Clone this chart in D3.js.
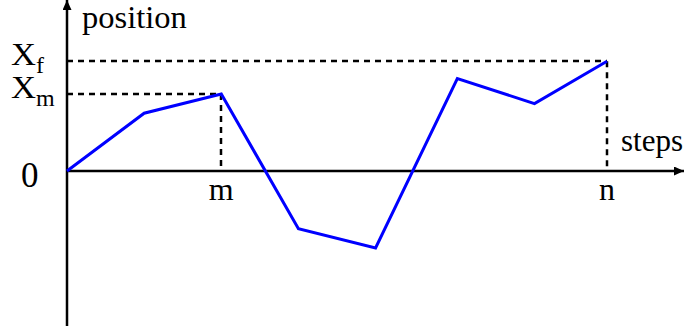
<!DOCTYPE html>
<html>
<head>
  <title>Random walk position vs steps</title>
  <script src="https://d3js.org/d3.v7.min.js"></script>
  <style>
    body { margin: 0; background: #fff; }
    text { font-family: "Liberation Serif", "Times New Roman", serif; fill: #000; }
  </style>
</head>
<body>
<div id="chart"></div>
<script>
// steps taken (x) and position after each step (y)
var steps = [0, 1, 2, 3, 4, 5.06, 6.06, 7];
var positions = [0, 3, 4, -3, -4, 4.8, 3.5, 5.7];
// marked points on the axes
var markM = 2;   // step m
var markN = 7;   // step n
var xLabels = ["m", "n"];

var width = 686, height = 328;

var svg = d3.select("#chart").append("svg")
  .attr("width", width)
  .attr("height", height);

// scales
var x = d3.scaleLinear().domain([0, 7]).range([67, 607]);
var y = d3.scaleLinear().domain([-4, 4]).range([248, 94]);

var x0 = x(0), y0 = y(0);

// arrow head marker
svg.append("defs").append("marker")
  .attr("id", "arrow")
  .attr("viewBox", "0 0 10 9")
  .attr("refX", 10)
  .attr("refY", 4.5)
  .attr("markerWidth", 10)
  .attr("markerHeight", 9)
  .attr("markerUnits", "userSpaceOnUse")
  .attr("orient", "auto")
  .append("path")
  .attr("d", "M0,0 L10,4.5 L0,9 Z")
  .attr("fill", "#000");

// dashed guide lines (snapped to whole pixels so they stay crisp)
var mIdx = steps.indexOf(markM), nIdx = steps.indexOf(markN);
var r = Math.round;
var guides = [
  [x0, r(y(positions[nIdx])), x(markN), r(y(positions[nIdx]))],
  [x0, r(y(positions[mIdx])), x(markM), r(y(positions[mIdx]))],
  [r(x(markM)), y(positions[mIdx]), r(x(markM)), y0],
  [r(x(markN)), y(positions[nIdx]), r(x(markN)), y0]
];
svg.selectAll(".guide")
  .data(guides)
  .enter().append("line")
  .attr("class", "guide")
  .attr("x1", function(d) { return d[0]; })
  .attr("y1", function(d) { return d[1]; })
  .attr("x2", function(d) { return d[2]; })
  .attr("y2", function(d) { return d[3]; })
  .attr("stroke", "#000")
  .attr("stroke-width", 2.5)
  .attr("stroke-dasharray", "6,5");

// axes
svg.append("line")
  .attr("x1", x0).attr("y1", 326)
  .attr("x2", x0).attr("y2", 0)
  .attr("stroke", "#000")
  .attr("stroke-width", 2.5)
  .attr("marker-end", "url(#arrow)");

svg.append("line")
  .attr("x1", x0).attr("y1", y0)
  .attr("x2", 684).attr("y2", y0)
  .attr("stroke", "#000")
  .attr("stroke-width", 2.5)
  .attr("marker-end", "url(#arrow)");

// the walk
svg.append("path")
  .datum(steps.map(function(s, i) { return [s, positions[i]]; }))
  .attr("fill", "none")
  .attr("stroke", "#0000ff")
  .attr("stroke-width", 3)
  .attr("stroke-linejoin", "miter")
  .attr("d", d3.line()
    .x(function(d) { return x(d[0]); })
    .y(function(d) { return y(d[1]); }));

// axis titles
svg.append("text")
  .attr("x", 82).attr("y", 28)
  .style("font-size", "32.5px")
  .text("position");

svg.append("text")
  .attr("x", 683).attr("y", 151)
  .attr("text-anchor", "end")
  .style("font-size", "31px")
  .text("steps");

// x labels
svg.selectAll(".xlab")
  .data([markM, markN])
  .enter().append("text")
  .attr("class", "xlab")
  .attr("x", function(d) { return x(d); })
  .attr("y", 200)
  .attr("text-anchor", "middle")
  .style("font-size", "32px")
  .text(function(d, i) { return xLabels[i]; });

// y labels
svg.append("text")
  .attr("x", 21).attr("y", 187)
  .style("font-size", "35px")
  .text("0");

var yLabs = [
  { main: "X", sub: "f", v: positions[nIdx] },
  { main: "X", sub: "m", v: positions[mIdx] }
];
var yl = svg.selectAll(".ylab")
  .data(yLabs)
  .enter().append("text")
  .attr("class", "ylab")
  .attr("x", 11)
  .attr("y", function(d) { return y(d.v) + 4; })
  .style("font-size", "31px");
yl.append("tspan")
  .attr("textLength", 25)
  .attr("lengthAdjust", "spacingAndGlyphs")
  .text(function(d) { return d.main; });
yl.append("tspan")
  .attr("dy", 8)
  .style("font-size", "24px")
  .text(function(d) { return d.sub; });
</script>
</body>
</html>
